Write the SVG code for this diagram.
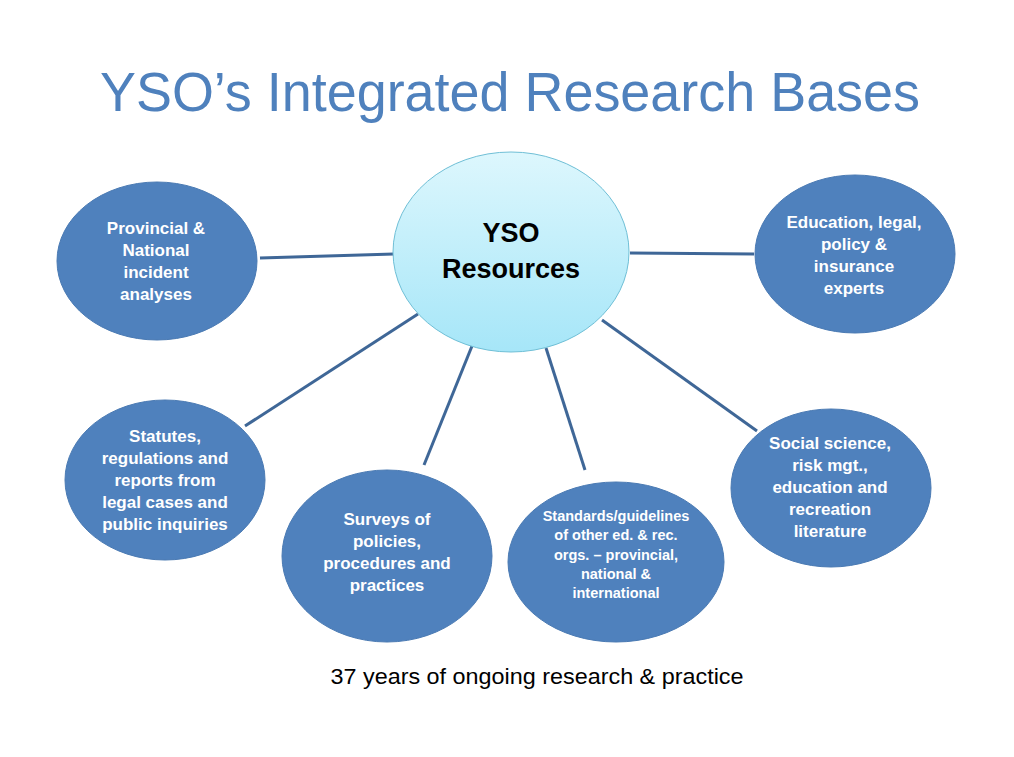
<svg xmlns="http://www.w3.org/2000/svg" width="1014" height="757" viewBox="0 0 1014 757">
<defs>
<linearGradient id="cg" x1="0" y1="0" x2="0" y2="1">
<stop offset="0" stop-color="#DDF7FD"/>
<stop offset="1" stop-color="#A6E6F8"/>
</linearGradient>
</defs>
<style>
.node{fill:#4F81BD;stroke:#4A7AB3;stroke-width:1}
.lbl{font-family:"Liberation Sans","Noto Sans",sans-serif;font-weight:bold;font-size:17px;fill:#FFFFFF;text-anchor:middle}
.sm{font-size:14.5px}
.conn{stroke:#3F6797;stroke-width:3;fill:none}
</style>
<rect width="1014" height="757" fill="#FFFFFF"/>
<text x="510" y="111" font-family="'Liberation Sans','Noto Sans',sans-serif" font-size="55" fill="#4F81BD" text-anchor="middle" textLength="820" lengthAdjust="spacingAndGlyphs">YSO’s Integrated Research Bases</text>
<g id="connectors">
<line class="conn" x1="260" y1="258" x2="394" y2="254"/>
<line class="conn" x1="630" y1="253" x2="754" y2="254"/>
<line class="conn" x1="245" y1="426" x2="418" y2="314"/>
<line class="conn" x1="424" y1="465" x2="472" y2="346"/>
<line class="conn" x1="585" y1="470" x2="546" y2="348"/>
<line class="conn" x1="757" y1="431" x2="602" y2="320"/>
</g>
<g id="center">
<ellipse cx="511" cy="252" rx="118" ry="100" fill="url(#cg)" stroke="#6FBFD6" stroke-width="1"/>
<text x="511" y="242" font-family="'Liberation Sans','Noto Sans',sans-serif" font-weight="bold" font-size="27" fill="#000000" text-anchor="middle">YSO</text>
<text x="511" y="278" font-family="'Liberation Sans','Noto Sans',sans-serif" font-weight="bold" font-size="27" fill="#000000" text-anchor="middle">Resources</text>
</g>
<g id="n-provincial">
<ellipse class="node" cx="157" cy="261" rx="100" ry="79"/>
<text class="lbl" x="156" y="234">Provincial &amp;</text>
<text class="lbl" x="156" y="256">National</text>
<text class="lbl" x="156" y="278">incident</text>
<text class="lbl" x="156" y="300">analyses</text>
</g>
<g id="n-education">
<ellipse class="node" cx="855" cy="254" rx="100" ry="79"/>
<text class="lbl" x="854" y="228">Education, legal,</text>
<text class="lbl" x="854" y="250">policy &amp;</text>
<text class="lbl" x="854" y="272">insurance</text>
<text class="lbl" x="854" y="294">experts</text>
</g>
<g id="n-statutes">
<ellipse class="node" cx="165" cy="480" rx="100" ry="80"/>
<text class="lbl" x="165" y="442">Statutes,</text>
<text class="lbl" x="165" y="464">regulations and</text>
<text class="lbl" x="165" y="486">reports from</text>
<text class="lbl" x="165" y="508">legal cases and</text>
<text class="lbl" x="165" y="530">public inquiries</text>
</g>
<g id="n-surveys">
<ellipse class="node" cx="387" cy="556" rx="105" ry="86"/>
<text class="lbl" x="387" y="525">Surveys of</text>
<text class="lbl" x="387" y="547">policies,</text>
<text class="lbl" x="387" y="569">procedures and</text>
<text class="lbl" x="387" y="591">practices</text>
</g>
<g id="n-standards">
<ellipse class="node" cx="616" cy="562" rx="108" ry="80"/>
<text class="lbl sm" x="616" y="521">Standards/guidelines</text>
<text class="lbl sm" x="616" y="540">of other ed. &amp; rec.</text>
<text class="lbl sm" x="616" y="560">orgs. – provincial,</text>
<text class="lbl sm" x="616" y="579">national  &amp;</text>
<text class="lbl sm" x="616" y="598">international</text>
</g>
<g id="n-social">
<ellipse class="node" cx="831" cy="488" rx="100" ry="79"/>
<text class="lbl" x="830" y="449">Social science,</text>
<text class="lbl" x="830" y="471">risk mgt.,</text>
<text class="lbl" x="830" y="493">education and</text>
<text class="lbl" x="830" y="515">recreation</text>
<text class="lbl" x="830" y="537">literature</text>
</g>
<text x="537" y="684" font-family="'Liberation Sans','Noto Sans',sans-serif" font-size="22" fill="#000000" text-anchor="middle" textLength="413" lengthAdjust="spacingAndGlyphs">37 years of ongoing research &amp; practice</text>
</svg>
